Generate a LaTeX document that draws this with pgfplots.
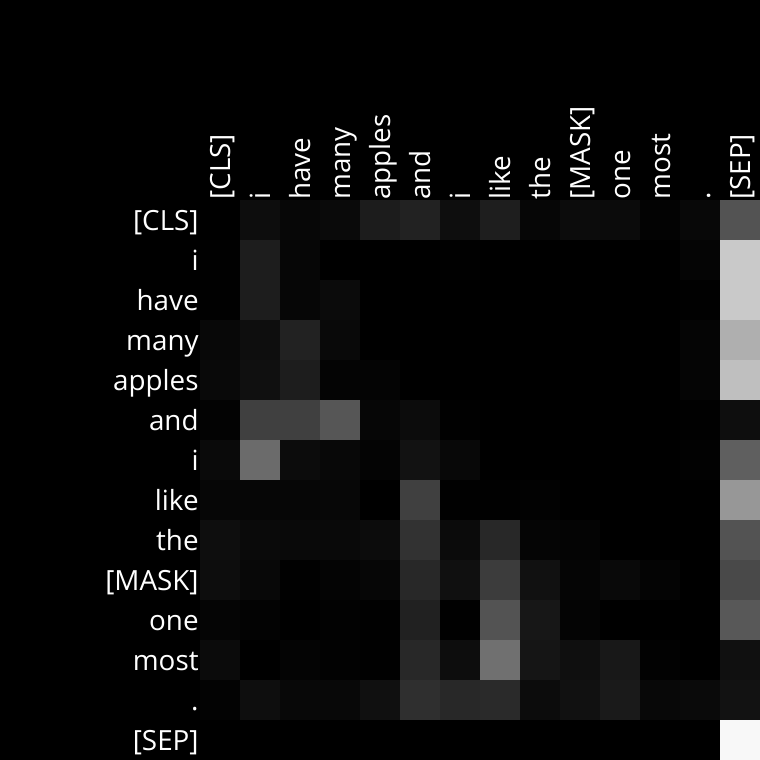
\documentclass[border=0pt]{standalone}
\usepackage{fontspec}
\setmainfont{Open Sans}
\usepackage{pgfplots}
\pgfplotsset{compat=1.18}
\begin{document}
\begin{tikzpicture}
\fill[black] (-100pt,0) rectangle (280pt,380pt);
\begin{axis}[
  anchor=south west, at={(0,0)},
  scale only axis, width=280pt, height=280pt,
  xmin=-0.5, xmax=13.5, ymin=-0.5, ymax=13.5,
  y dir=reverse,
  axis line style={draw=none},
  major tick length=0pt,
  xtick={0,...,13}, ytick={0,...,13},
  xticklabels={{[CLS]},{i},{have},{many},{apples},{and},{i},{like},{the},{[MASK]},{one},{most},{.},{[SEP]}},
  yticklabels={{[CLS]},{i},{have},{many},{apples},{and},{i},{like},{the},{[MASK]},{one},{most},{.},{[SEP]}},
  xticklabel pos=right,
  tick label style={text=white, font=\fontsize{13.9}{16}\selectfont},
  xticklabel style={rotate=90, anchor=base west, yshift=-5.25pt, inner sep=0pt},
  yticklabel style={anchor=base east, yshift=-5.25pt, inner sep=0.5pt},
  colormap={bw}{gray(0cm)=(0); gray(1cm)=(1)},
  point meta min=0, point meta max=255,
  enlargelimits=false,
]
\addplot[matrix plot*, mesh/cols=14, mesh/rows=14, point meta=explicit] coordinates {
(0,0)[0] (1,0)[13] (2,0)[7] (3,0)[10] (4,0)[28] (5,0)[34] (6,0)[14] (7,0)[30] (8,0)[6] (9,0)[12] (10,0)[11] (11,0)[3] (12,0)[8] (13,0)[82]
(0,1)[1] (1,1)[29] (2,1)[6] (3,1)[0] (4,1)[0] (5,1)[0] (6,1)[1] (7,1)[0] (8,1)[0] (9,1)[0] (10,1)[0] (11,1)[0] (12,1)[5] (13,1)[200]
(0,2)[1] (1,2)[29] (2,2)[6] (3,2)[11] (4,2)[0] (5,2)[0] (6,2)[0] (7,2)[0] (8,2)[0] (9,2)[0] (10,2)[0] (11,2)[0] (12,2)[1] (13,2)[200]
(0,3)[8] (1,3)[14] (2,3)[34] (3,3)[9] (4,3)[0] (5,3)[0] (6,3)[0] (7,3)[0] (8,3)[0] (9,3)[0] (10,3)[0] (11,3)[0] (12,3)[5] (13,3)[174]
(0,4)[9] (1,4)[16] (2,4)[29] (3,4)[4] (4,4)[4] (5,4)[0] (6,4)[0] (7,4)[0] (8,4)[0] (9,4)[0] (10,4)[0] (11,4)[0] (12,4)[5] (13,4)[190]
(0,5)[3] (1,5)[64] (2,5)[64] (3,5)[85] (4,5)[6] (5,5)[12] (6,5)[1] (7,5)[0] (8,5)[0] (9,5)[0] (10,5)[0] (11,5)[0] (12,5)[1] (13,5)[14]
(0,6)[10] (1,6)[106] (2,6)[12] (3,6)[8] (4,6)[4] (5,6)[18] (6,6)[8] (7,6)[0] (8,6)[0] (9,6)[0] (10,6)[0] (11,6)[0] (12,6)[2] (13,6)[94]
(0,7)[6] (1,7)[6] (2,7)[6] (3,7)[7] (4,7)[0] (5,7)[64] (6,7)[1] (7,7)[1] (8,7)[2] (9,7)[0] (10,7)[0] (11,7)[0] (12,7)[0] (13,7)[150]
(0,8)[14] (1,8)[10] (2,8)[9] (3,8)[9] (4,8)[12] (5,8)[50] (6,8)[11] (7,8)[40] (8,8)[5] (9,8)[4] (10,8)[0] (11,8)[0] (12,8)[0] (13,8)[82]
(0,9)[13] (1,9)[8] (2,9)[1] (3,9)[4] (4,9)[6] (5,9)[40] (6,9)[16] (7,9)[60] (8,9)[17] (9,9)[5] (10,9)[9] (11,9)[4] (12,9)[0] (13,9)[72]
(0,10)[5] (1,10)[3] (2,10)[0] (3,10)[2] (4,10)[1] (5,10)[33] (6,10)[1] (7,10)[82] (8,10)[23] (9,10)[4] (10,10)[0] (11,10)[0] (12,10)[0] (13,10)[87]
(0,11)[11] (1,11)[0] (2,11)[4] (3,11)[2] (4,11)[1] (5,11)[40] (6,11)[13] (7,11)[111] (8,11)[21] (9,11)[15] (10,11)[24] (11,11)[2] (12,11)[0] (13,11)[16]
(0,12)[3] (1,12)[14] (2,12)[8] (3,12)[8] (4,12)[16] (5,12)[47] (6,12)[40] (7,12)[42] (8,12)[12] (9,12)[17] (10,12)[26] (11,12)[8] (12,12)[10] (13,12)[18]
(0,13)[0] (1,13)[0] (2,13)[0] (3,13)[0] (4,13)[0] (5,13)[0] (6,13)[0] (7,13)[0] (8,13)[0] (9,13)[0] (10,13)[0] (11,13)[0] (12,13)[0] (13,13)[246]
};
\end{axis}
\pgfresetboundingbox
\useasboundingbox (-100pt,0) rectangle (280pt,380pt);
\end{tikzpicture}
\end{document}
